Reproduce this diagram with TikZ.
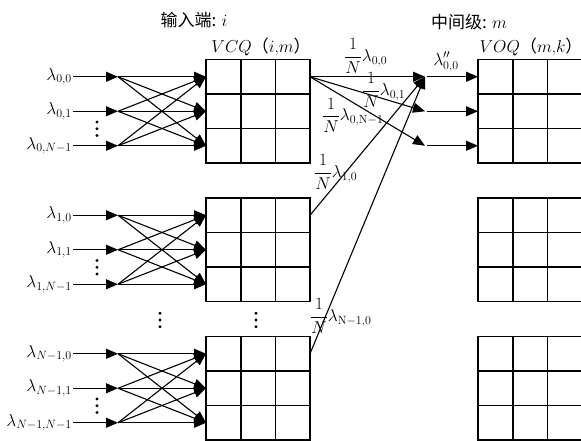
\documentclass[tikz,border=0pt]{standalone}
\usepackage{amsmath}
\usepackage{fontspec}
\newfontfamily\cjk{Noto Sans CJK SC}
\usetikzlibrary{arrows.meta}
\begin{document}
\begin{tikzpicture}[x=1pt,y=-1pt,
  every node/.style={font=\fontsize{17}{20}\selectfont, inner sep=0pt},
  cell/.style={line width=1.6pt},
  arr/.style={line width=1.1pt, -{Triangle[length=12pt,width=10pt]}},
  lab/.style={anchor=east, inner sep=1pt, font=\fontsize{18}{21}\selectfont},
  mid/.style={anchor=west},
  dotc/.style={fill=black}]
\useasboundingbox (0,0) rectangle (581,440);

% grids
\foreach \t in {59.5,198,336.5}{
  \draw[cell] (206,\t) rectangle (310,\t+103.5);
  \foreach \x in {240.7,275.3} \draw[cell] (\x,\t) -- (\x,\t+103.5);
  \foreach \k in {1,2} \draw[cell] (206,\t+34.5*\k) -- (310,\t+34.5*\k);
  \draw[cell] (583,\t) -- (478,\t) -- (478,\t+103.5) -- (583,\t+103.5);
  \foreach \x in {512.7,547.3} \draw[cell] (\x,\t) -- (\x,\t+103.5);
  \foreach \k in {1,2} \draw[cell] (478,\t+34.5*\k) -- (583,\t+34.5*\k);
}

% titles
\node (tin) at (194,20) {\cjk 输入端: $i$};
\node (tvcq) at (261,47) {$VCQ${\cjk （}$i$,$m${\cjk ）}};
\node (tmid) at (469,22) {\cjk 中间级: $m$};
\node (tvoq) at (531,47) {$VOQ${\cjk （}$m$,$k${\cjk ）}};

% input blocks
\foreach \b/\t/\sa/\sb/\sc in {1/59.5/{0,0}/{0,1}/{0,N-1}, 2/198/{1,0}/{1,1}/{1,N-1}, 3/336.5/{N-1,0}/{N-1,1}/{N-1,N-1}}{
  \node[lab] (in-\b-1) at (73,\t+17.25) {$\lambda_{\sa}$};
  \node[lab] (in-\b-2) at (73,\t+51.75) {$\lambda_{\sb}$};
  \node[lab] (in-\b-3) at (73,\t+86.25) {$\lambda_{\sc}$};
  \foreach \r/\yy in {1/17.25,2/51.75,3/86.25}{
    \coordinate (j-\b-\r) at (118,\t+\yy);
    \coordinate (t-\b-\r) at (206,\t+\yy);
  }
  \foreach \r in {1,2,3}{
    \draw[arr] (in-\b-\r) -- (j-\b-\r);
    \foreach \s in {1,2,3} \draw[arr] (j-\b-\r) -- (t-\b-\s);
  }
  \foreach \d in {-6.7,0,6.7} \fill[dotc] (97,\t+69.25+\d) circle (1.6);
}
\foreach \d in {-6.7,0,6.7}{
  \fill[dotc] (160,320+\d) circle (1.6);
  \fill[dotc] (256,320+\d) circle (1.6);
}

% middle stage
\coordinate (s0) at (310,76.75);
\coordinate (s1) at (310,215.25);
\coordinate (s2) at (310,353.75);
\coordinate (m1) at (425,76.75);
\coordinate (m2) at (425,111.25);
\coordinate (m3) at (425,145.75);
\coordinate (n1) at (427,76.75);
\coordinate (n2) at (427,111.25);
\coordinate (n3) at (427,145.75);
\coordinate (v1) at (478,76.75);
\coordinate (v2) at (478,111.25);
\coordinate (v3) at (478,145.75);
\draw[arr] (s0) -- (m1);
\draw[arr] (s0) -- (m2);
\draw[arr] (s0) -- (m3);
\draw[arr] (s1) -- (m1);
\draw[arr] (s2) -- (m1);
\draw[arr] (n1) -- (v1);
\draw[arr] (n2) -- (v2);
\draw[arr] (n3) -- (v3);

\node[mid] (l00) at (344,56) {$\dfrac{1}{N}\lambda_{0,0}$};
\node[mid] (l01) at (362,90) {$\dfrac{1}{N}\lambda_{0,1}$};
\node[mid] (l0n) at (322,115.5) {$\dfrac{1}{N}\lambda_{0,\mathrm{N}-1}$};
\node[mid] (l10) at (314,172) {$\dfrac{1}{N}\lambda_{1,0}$};
\node[mid] (ln0) at (310,316) {$\dfrac{1}{N}\lambda_{\mathrm{N}-1,0}$};
\node (lpp) at (446,62) {$\lambda''_{0,0}$};
\end{tikzpicture}
\end{document}
